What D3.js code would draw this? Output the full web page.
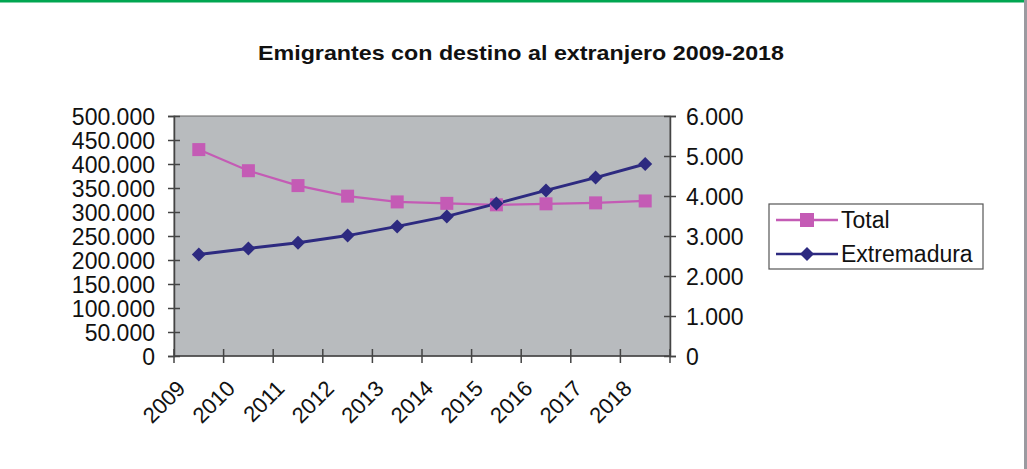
<!DOCTYPE html>
<meta charset="utf-8">
<script src="https://d3js.org/d3.v7.min.js"></script>
<style>
    body { margin: 0; background: #fff; }
    text { font-family: "Liberation Sans", Arial, sans-serif; fill: #111; }
    .title { font-size: 21px; font-weight: bold; }
    .axis text { font-size: 23px; }
    .axis text.xlab { font-size: 22px; }
    .axis path, .axis line { stroke: #444; stroke-width: 1.5; }
    .legend text { font-size: 23px; }
</style>
<div id="chart"></div>
<script>
const years = ["2009", "2010", "2011", "2012", "2013", "2014", "2015", "2016", "2017", "2018"];
const total = [430000, 386000, 355000, 333000, 321000, 318000, 315000, 317000, 319000, 323000];
const extremadura = [2540, 2690, 2830, 3010, 3240, 3490, 3810, 4140, 4460, 4800];
const leftTicks = [0, 50000, 100000, 150000, 200000, 250000, 300000, 350000, 400000, 450000, 500000];
const rightTicks = [0, 1000, 2000, 3000, 4000, 5000, 6000];

const W = 1027, H = 469;
const plot = {left: 174, right: 670, top: 116, bottom: 356};

const fmt = d => d3.format(",")(d).replace(/,/g, ".");

const svg = d3.select("#chart").append("svg")
    .attr("width", W).attr("height", H);

// frame
svg.append("rect").attr("x", 0).attr("y", 0).attr("width", W).attr("height", 2.5).attr("fill", "#00a651");
svg.append("rect").attr("x", W - 3).attr("y", 0).attr("width", 3).attr("height", H).attr("fill", "#9b9aa0");

svg.append("text").attr("class", "title")
    .attr("x", 521).attr("y", 60).attr("text-anchor", "middle")
    .attr("textLength", 526).attr("lengthAdjust", "spacingAndGlyphs")
    .text("Emigrantes con destino al extranjero 2009-2018");

const x = d3.scaleBand().domain(years).range([plot.left, plot.right]);
const yL = d3.scaleLinear().domain([0, 500000]).range([plot.bottom, plot.top]);
const yR = d3.scaleLinear().domain([0, 6000]).range([plot.bottom, plot.top]);
const cx = d => x(d) + x.bandwidth() / 2;

svg.append("rect")
    .attr("x", plot.left).attr("y", plot.top)
    .attr("width", plot.right - plot.left).attr("height", plot.bottom - plot.top)
    .attr("fill", "#b8bbbe").attr("stroke", "#666").attr("stroke-width", 1);

// left axis
const gl = svg.append("g").attr("class", "axis")
    .attr("transform", `translate(${plot.left},0)`)
    .call(d3.axisLeft(yL).tickValues(leftTicks).tickFormat(fmt).tickSizeOuter(0).tickSize(6).tickPadding(13));
gl.selectAll(".tick line").attr("x2", -6).attr("x1", 6);
gl.selectAll(".tick text").attr("dy", "0.36em");

// right axis
const gr = svg.append("g").attr("class", "axis")
    .attr("transform", `translate(${plot.right},0)`)
    .call(d3.axisRight(yR).tickValues(rightTicks).tickFormat(fmt).tickSizeOuter(0).tickSize(6).tickPadding(10));
gr.selectAll(".tick line").attr("x1", -6).attr("x2", 6);
gr.selectAll(".tick text").attr("dy", "0.36em");

// x axis: ticks at category boundaries
const gx = svg.append("g").attr("class", "axis")
    .attr("transform", `translate(0,${plot.bottom})`);
gx.append("line").attr("x1", plot.left).attr("x2", plot.right).attr("stroke", "#444").attr("stroke-width", 1.5);
const bounds = years.map(d => x(d)).concat([plot.right]);
gx.selectAll(".bt").data(bounds).join("line")
    .attr("x1", d => d).attr("x2", d => d).attr("y1", -7).attr("y2", 7);
gx.selectAll(".xlab").data(years).join("text")
    .attr("class", "xlab")
    .attr("text-anchor", "end")
    .attr("transform", d => `translate(${cx(d) - 23},23) rotate(-45)`)
    .attr("dy", "0.7em")
    .text(d => d);

const colTotal = "#c45bb5", colExt = "#2d2a80";

const lineL = d3.line().x((d, i) => cx(years[i])).y(d => yL(d));
const lineR = d3.line().x((d, i) => cx(years[i])).y(d => yR(d));

svg.append("path").attr("d", lineL(total)).attr("fill", "none").attr("stroke", colTotal).attr("stroke-width", 2.2);
svg.append("path").attr("d", lineR(extremadura)).attr("fill", "none").attr("stroke", colExt).attr("stroke-width", 3);

const sq = 13, dm = 7;
svg.selectAll(".sq").data(total).join("rect")
    .attr("x", (d, i) => cx(years[i]) - sq / 2)
    .attr("y", d => yL(d) - sq / 2)
    .attr("width", sq).attr("height", sq).attr("fill", colTotal);
svg.selectAll(".dm").data(extremadura).join("path")
    .attr("d", `M0,${-dm}L${dm},0L0,${dm}L${-dm},0Z`)
    .attr("transform", (d, i) => `translate(${cx(years[i])},${yR(d)})`)
    .attr("fill", colExt);

// legend
const lg = svg.append("g").attr("class", "legend");
lg.append("rect").attr("x", 769).attr("y", 204).attr("width", 214).attr("height", 65)
    .attr("fill", "#fff").attr("stroke", "#555").attr("stroke-width", 1.2);
const items = [{name: "Total", col: colTotal, y: 220, shape: "sq"}, {name: "Extremadura", col: colExt, y: 254, shape: "dm"}];
items.forEach(it => {
    lg.append("line").attr("x1", 776).attr("x2", 838).attr("y1", it.y).attr("y2", it.y)
        .attr("stroke", it.col).attr("stroke-width", 2.5);
    if (it.shape === "sq") {
        lg.append("rect").attr("x", 800).attr("y", it.y - 7).attr("width", 14).attr("height", 14).attr("fill", it.col);
    } else {
        lg.append("path").attr("d", `M807,${it.y - 7}L814,${it.y}L807,${it.y + 7}L800,${it.y}Z`).attr("fill", it.col);
    }
    lg.append("text").attr("x", 841).attr("y", it.y).attr("dy", "0.36em").text(it.name);
});
</script>
